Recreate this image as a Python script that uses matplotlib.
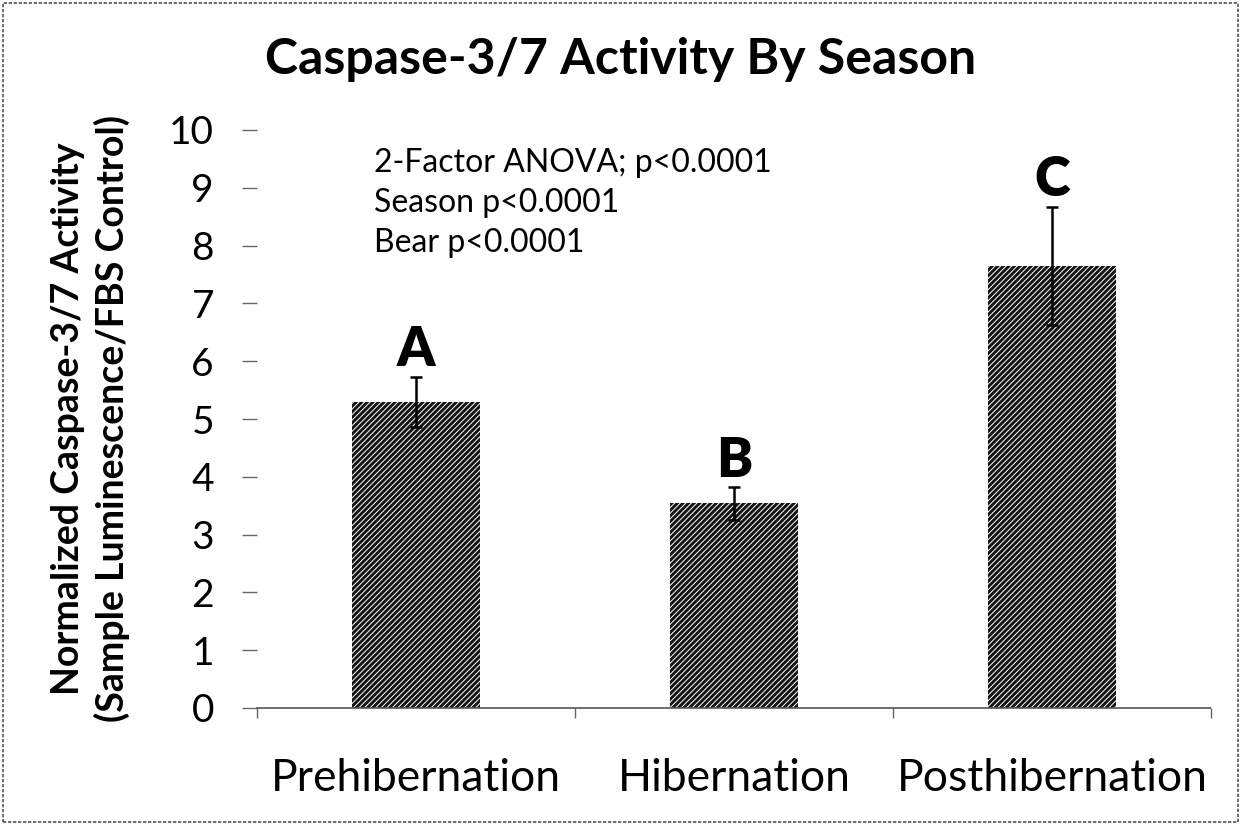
import matplotlib
matplotlib.use("Agg")
import matplotlib.pyplot as plt
from matplotlib.patches import Rectangle

# Data
seasons = ["Prehibernation", "Hibernation", "Posthibernation"]
activity = [5.30, 3.54, 7.65]
activity_err = [0.43, 0.28, 1.02]
group_letters = ["A", "B", "C"]
ytick_values = list(range(0, 11))
stats_lines = ["2-Factor ANOVA; p<0.0001", "Season p<0.0001", "Bear p<0.0001"]

plt.rcParams["font.family"] = ["Lato", "DejaVu Sans"]
plt.rcParams["hatch.linewidth"] = 0.7

W, H = 1241, 825
fig = plt.figure(figsize=(W / 100, H / 100), dpi=100)
ax = fig.add_axes([257 / W, 1 - 708 / H, (1211 - 257) / W, 578 / H])

x = list(range(len(seasons)))
ax.bar(x, activity, width=0.40, color="#141414", edgecolor="white",
       hatch="//////", linewidth=0, zorder=2)
ax.errorbar(x, activity, yerr=activity_err, fmt="none", ecolor="black",
            elinewidth=1.8, capsize=4.3, capthick=1.8, zorder=3)

for xi, v, e, lab in zip(x, activity, activity_err, group_letters):
    ax.annotate(lab, (xi, v + e), xytext=(0, 1), textcoords="offset points",
                ha="center", va="bottom", fontsize=39, fontweight="heavy")

ax.set_xlim(-0.5, 2.5)
ax.set_ylim(0, 10)
ax.set_yticks(ytick_values)
ax.set_yticklabels([str(v) for v in ytick_values])
ax.set_xticks(x)
ax.set_xticklabels(seasons)
ax.set_xticks([-0.5, 0.5, 1.5, 2.5], minor=True)

ax.tick_params(axis="y", direction="out", length=11, width=1.0, color="#666666",
               labelsize=28, pad=20)
ax.tick_params(axis="x", which="major", length=0, labelsize=32, pad=36)
ax.tick_params(axis="x", which="minor", direction="out", length=7, width=1.0,
               color="#666666")

for side in ("left", "right", "top"):
    ax.spines[side].set_visible(False)
ax.spines["bottom"].set_linestyle((0, (2, 1)))
ax.spines["bottom"].set_color("#555555")
ax.spines["bottom"].set_linewidth(1.2)

ax.set_ylabel("Normalized Caspase-3/7 Activity\n(Sample Luminescence/FBS Control)",
              fontsize=27, fontweight="bold", linespacing=1.3, labelpad=28)

for i, line in enumerate(stats_lines):
    ax.text(0.1226, 0.943 - i * 0.0695, line, transform=ax.transAxes,
            ha="left", va="center", fontsize=23)

fig.text(0.5, 1 - 60 / H, "Caspase-3/7 Activity By Season", ha="center",
         va="center", fontsize=36, fontweight="bold")

fig.patches.append(Rectangle((3 / W, 3 / H), 1 - 6 / W, 1 - 6 / H,
                             transform=fig.transFigure, fill=False,
                             edgecolor="#555555", linewidth=1.2,
                             linestyle=(0, (2, 1))))

fig.savefig("out.png", dpi=100)
